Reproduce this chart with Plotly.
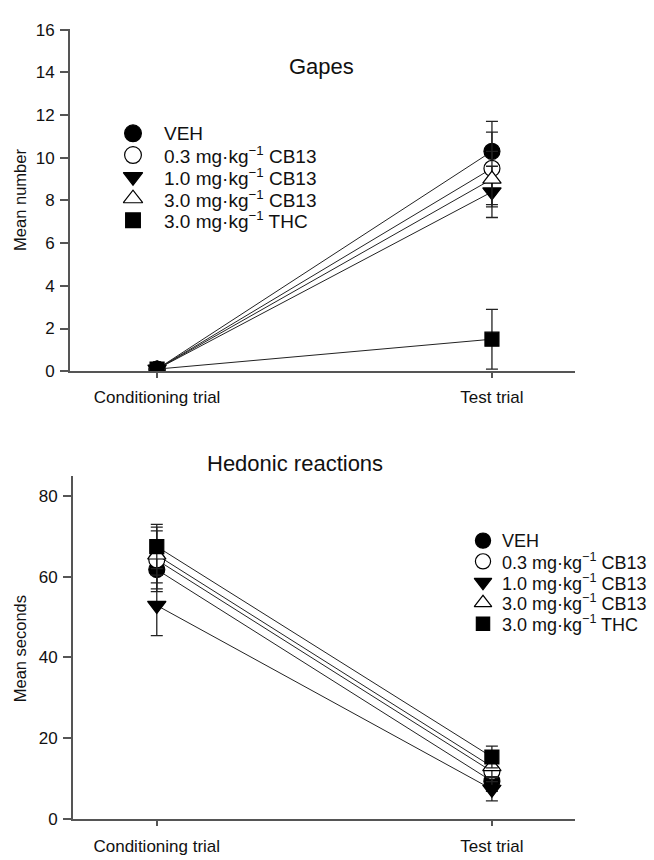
import plotly.graph_objects as go

# Trial phases on the x axis
trials = ["Conditioning trial", "Test trial"]

# Treatment groups and marker styling
groups = [
    "VEH",
    "0.3 mg·kg<sup>−1</sup> CB13",
    "1.0 mg·kg<sup>−1</sup> CB13",
    "3.0 mg·kg<sup>−1</sup> CB13",
    "3.0 mg·kg<sup>−1</sup> THC",
]
symbols = ["circle", "circle", "triangle-down", "triangle-up", "square"]
fills = ["black", "white", "black", "white", "black"]
sizes = [16, 16, 16, 16, 14]

# Gapes: mean number (conditioning, test) and SEM
gapes_mean = [
    [0.1, 10.3],
    [0.1, 9.5],
    [0.1, 8.4],
    [0.1, 9.0],
    [0.1, 1.5],
]
gapes_sem = [
    [0.05, 1.4],
    [0.05, 1.7],
    [0.05, 1.2],
    [0.05, 1.3],
    [0.05, 1.4],
]

# Hedonic reactions: mean seconds (conditioning, test) and SEM
hedonic_mean = [
    [61.8, 9.3],
    [64.2, 11.7],
    [52.9, 7.3],
    [65.4, 12.9],
    [67.5, 15.3],
]
hedonic_sem = [
    [5.5, 2.5],
    [7.2, 2.5],
    [7.5, 2.9],
    [6.9, 2.5],
    [5.5, 2.7],
]

W, H = 654, 860
FONT = "Liberation Sans, Arial, sans-serif"
AXIS_COLOR = "#555555"
TEXT_COLOR = "#111111"

fig = go.Figure()


def add_panel(means, sems, xa, ya):
    for i, g in enumerate(groups):
        fig.add_trace(go.Scatter(
            x=trials, y=means[i], xaxis=xa, yaxis=ya,
            mode="lines+markers", name=g,
            line=dict(color="#222222", width=1),
            marker=dict(symbol=symbols[i], size=sizes[i], color=fills[i],
                        line=dict(color="black", width=1.2)),
            error_y=dict(type="data", array=sems[i], color="#222222",
                         thickness=1.3, width=6),
            showlegend=False,
        ))


add_panel(gapes_mean, gapes_sem, "x", "y")
add_panel(hedonic_mean, hedonic_sem, "x2", "y2")


def px_x(p):
    return p / W


def px_y(p):
    return 1 - p / H


# Key boxes on a transparent full-page pixel overlay:
# (symbol x, text x, first row y, row step, symbol scale, font size)
keys = [
    (133, 162, 128, 22.2, 1.05, 19),
    (483, 500, 544, 21.2, 0.95, 18),
]

annotations = []
for sx, tx, y0, step, scale, fsize in keys:
    rows = [y0 + i * step for i in range(len(groups))]
    for i, g in enumerate(groups):
        fig.add_trace(go.Scatter(
            x=[sx], y=[rows[i]], xaxis="x3", yaxis="y3", mode="markers",
            marker=dict(symbol=symbols[i], size=sizes[i] * scale,
                        color=fills[i], line=dict(color="black", width=1.2)),
            showlegend=False, hoverinfo="skip",
        ))
        annotations.append(dict(
            text=g, x=px_x(tx), y=px_y(rows[i]), xref="paper", yref="paper",
            xanchor="left", yanchor="middle", showarrow=False,
            font=dict(family=FONT, size=fsize, color=TEXT_COLOR)))

annotations += [
    dict(text="Gapes", x=px_x(321), y=px_y(60), xref="paper", yref="paper",
         xanchor="center", yanchor="middle", showarrow=False,
         font=dict(family=FONT, size=22, color=TEXT_COLOR)),
    dict(text="Hedonic reactions", x=px_x(295), y=px_y(465), xref="paper",
         yref="paper", xanchor="center", yanchor="middle", showarrow=False,
         font=dict(family=FONT, size=22, color=TEXT_COLOR)),
    dict(text="Mean number", x=px_x(20), y=px_y(196), xref="paper",
         yref="paper", xanchor="center", yanchor="middle", showarrow=False,
         textangle=-90, font=dict(family=FONT, size=16.5, color=TEXT_COLOR)),
    dict(text="Mean seconds", x=px_x(20), y=px_y(655), xref="paper",
         yref="paper", xanchor="center", yanchor="middle", showarrow=False,
         textangle=-90, font=dict(family=FONT, size=16.5, color=TEXT_COLOR)),
]

axis_common = dict(
    showline=True, linecolor=AXIS_COLOR, linewidth=2,
    ticks="outside", tickcolor=AXIS_COLOR, tickwidth=1.5,
    showgrid=False, zeroline=False,
    tickfont=dict(family=FONT, size=17, color=TEXT_COLOR),
)

fig.update_layout(
    width=W, height=H,
    margin=dict(l=0, r=0, t=0, b=0),
    plot_bgcolor="rgba(0,0,0,0)", paper_bgcolor="white",
    font=dict(family=FONT, color=TEXT_COLOR),
    showlegend=False,
    xaxis=dict(domain=[px_x(70), px_x(575)], anchor="y",
               type="category", range=[-0.26, 1.248], ticklen=5,
               ticklabelstandoff=4, **axis_common),
    yaxis=dict(domain=[px_y(371), px_y(21)], anchor="x",
               range=[0, 16.05], tickvals=list(range(0, 17, 2)), ticklen=8,
               ticklabelstandoff=2, **axis_common),
    xaxis2=dict(domain=[px_x(73), px_x(575)], anchor="y2",
                type="category", range=[-0.25, 1.248], ticklen=5,
                ticklabelstandoff=6, **axis_common),
    yaxis2=dict(domain=[px_y(828), px_y(478)], anchor="x2",
                range=[0, 85], tickvals=[0, 20, 40, 60, 80], ticklen=8,
                ticklabelstandoff=2, **axis_common),
    xaxis3=dict(domain=[0, 1], range=[0, W], visible=False, fixedrange=True,
                anchor="y3"),
    yaxis3=dict(domain=[0, 1], range=[H, 0], visible=False, fixedrange=True,
                anchor="x3"),
    annotations=annotations,
)

fig.write_html("out.html")
